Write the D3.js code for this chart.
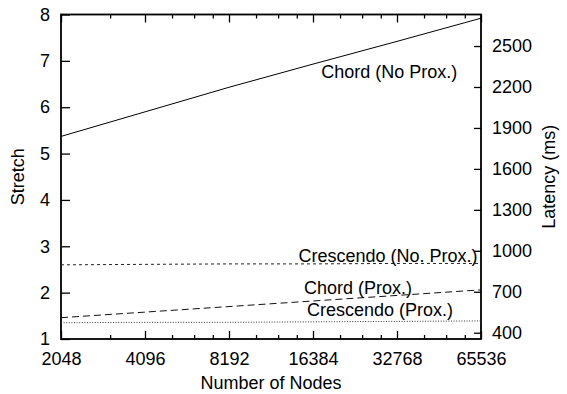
<!DOCTYPE html>
<html>
<head>
<meta charset="utf-8">
<script src="https://cdn.jsdelivr.net/npm/d3@7"></script>
<style>
  body { margin: 0; background: #fff; }
  svg { display: block; font-family: "Liberation Sans", Arial, sans-serif; }
  .axis text { font-size: 18px; fill: #000; }
  .axis line { stroke: #000; stroke-width: 1.3; }
  .axis path.domain { display: none; }
</style>
</head>
<body>
<div id="chart"></div>
<script>
// data
const nodes = [2048, 4096, 8192, 16384, 32768, 65536]
const chordNoProx = [5.37, 5.90, 6.43, 6.93, 7.42, 7.92]
const crescNoProx = [2.60, 2.61, 2.62, 2.62, 2.63, 2.63]
const chordProx = [1.46, 1.58, 1.70, 1.82, 1.94, 2.06]
const crescProx = [1.35, 1.36, 1.36, 1.37, 1.38, 1.39]

const stretchTicks = [1, 2, 3, 4, 5, 6, 7, 8]
const latencyTicks = [400, 700, 1000, 1300, 1600, 1900, 2200, 2500]
const minorTicks = [3072, 5120, 6144, 7168, 10240, 12288, 14336, 20480, 24576, 28672, 40960, 49152, 57344]

// label anchors (end of text) in data units: nodes, stretch
const labelText = ["Chord (No Prox.)", "Crescendo (No. Prox.)", "Chord (Prox.)", "Crescendo (Prox.)"]
const labelX = [53900, 63700, 37100, 52000]
const labelY = [6.62, 2.67, 1.965, 1.497]

let width = 567, height = 394
let margin = {top: 14.5, right: 86, bottom: 55, left: 61}

const svg = d3.select('#chart').append('svg')
    .attr('width', width)
    .attr('height', height)

let x = d3.scaleLog().base(2).domain([2048, 65536]).range([margin.left, width - margin.right])
let y = d3.scaleLinear().domain([1, 8]).range([height - margin.bottom, margin.top])
let y2 = d3.scaleLinear().domain([354, 2731]).range([height - margin.bottom, margin.top])

const bottom = height - margin.bottom, right = width - margin.right

// x axis, major + minor, bottom and mirrored on top
svg.append('g').attr('class', 'axis').attr('transform', 'translate(0,' + bottom + ')')
    .call(d3.axisBottom(x).tickValues(nodes).tickFormat(d3.format('d')).tickSize(-8).tickPadding(13))
svg.append('g').attr('class', 'axis').attr('transform', 'translate(0,' + bottom + ')')
    .call(d3.axisBottom(x).tickValues(minorTicks).tickFormat('').tickSize(-4))
svg.append('g').attr('class', 'axis').attr('transform', 'translate(0,' + margin.top + ')')
    .call(d3.axisTop(x).tickValues(nodes).tickFormat('').tickSize(-8))
svg.append('g').attr('class', 'axis').attr('transform', 'translate(0,' + margin.top + ')')
    .call(d3.axisTop(x).tickValues(minorTicks).tickFormat('').tickSize(-4))

// left stretch axis
svg.append('g').attr('class', 'axis').attr('transform', 'translate(' + margin.left + ',0)')
    .call(d3.axisLeft(y).tickValues(stretchTicks).tickFormat(d3.format('d')).tickSize(-9).tickPadding(11))

// right latency axis
svg.append('g').attr('class', 'axis').attr('transform', 'translate(' + right + ',0)')
    .call(d3.axisRight(y2).tickValues(latencyTicks).tickFormat(d3.format('d')).tickSize(-7).tickPadding(11))

// border
svg.append('rect')
    .attr('x', margin.left).attr('y', margin.top)
    .attr('width', right - margin.left).attr('height', bottom - margin.top)
    .style('fill', 'none').style('stroke', '#000').style('stroke-width', 1.8)

// series
let series = [
    {vals: chordNoProx, dash: null, color: '#000'},
    {vals: crescNoProx, dash: '3,3', color: '#222'},
    {vals: chordProx, dash: '7,4', color: '#111'},
    {vals: crescProx, dash: '1,1.6', color: '#333'}
]
let line = d3.line().x((d, i) => x(nodes[i])).y(d => y(d))
series.forEach(s => {
    svg.append('path')
        .attr('d', line(s.vals))
        .style('fill', 'none')
        .style('stroke', s.color)
        .style('stroke-width', 1)
        .style('stroke-dasharray', s.dash)
})

// line labels
labelText.forEach((t, i) => {
    svg.append('text')
        .attr('x', x(labelX[i]))
        .attr('y', y(labelY[i]))
        .style('text-anchor', 'end')
        .style('font-size', '18px')
        .text(t)
})

// axis titles
svg.append('text')
    .attr('x', (margin.left + right) / 2)
    .attr('y', 389)
    .style('text-anchor', 'middle')
    .style('font-size', '18px')
    .text('Number of Nodes')

svg.append('text')
    .attr('transform', 'rotate(-90)')
    .attr('x', -(margin.top + bottom) / 2)
    .attr('y', 24)
    .style('text-anchor', 'middle')
    .style('font-size', '18px')
    .text('Stretch')

svg.append('text')
    .attr('transform', 'rotate(-90)')
    .attr('x', -(margin.top + bottom) / 2)
    .attr('y', 555)
    .style('text-anchor', 'middle')
    .style('font-size', '18px')
    .text('Latency (ms)')
</script>
</body>
</html>
